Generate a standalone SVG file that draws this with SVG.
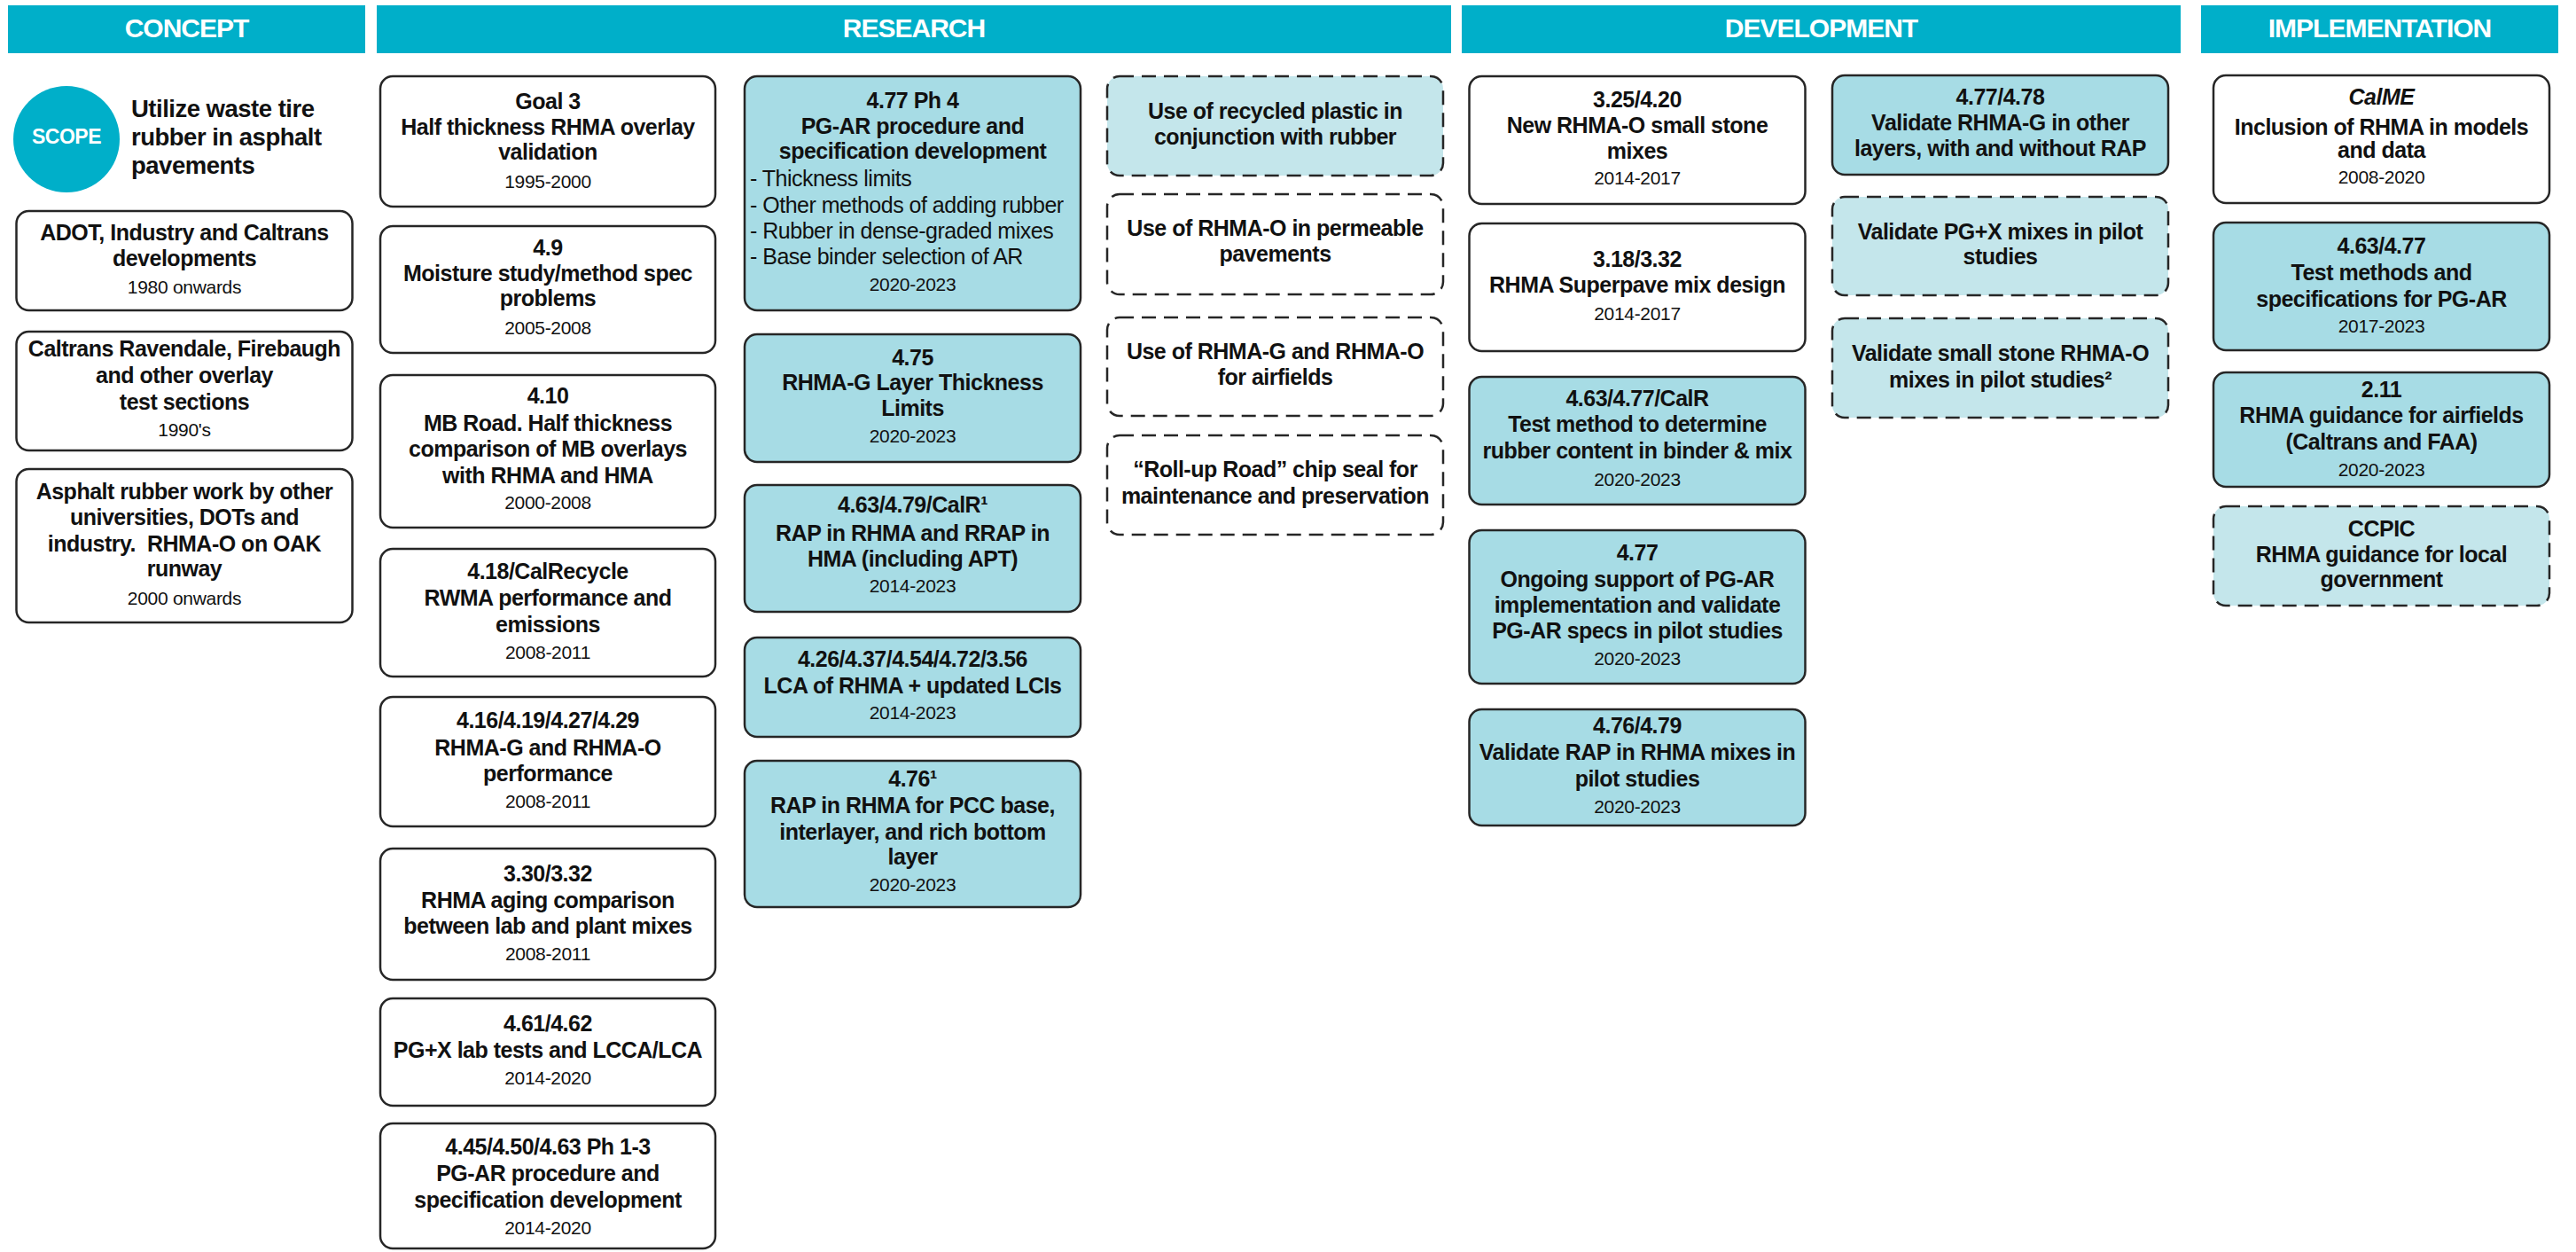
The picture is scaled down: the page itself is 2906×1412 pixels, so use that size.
<svg xmlns="http://www.w3.org/2000/svg" width="2906" height="1412" viewBox="0 0 2906 1412">
<style>
.box{stroke:#262626;stroke-width:2.5}
.w{fill:#ffffff}
.b{fill:#A7DCE5}
.l{fill:#C4E6EB}
.d{stroke-dasharray:16 9}
.hdr{fill:#00AFC9}
text{font-family:"Liberation Sans",Arial,sans-serif;fill:#111;text-anchor:middle}
.t{font-weight:bold;font-size:25px;letter-spacing:-0.5px}
.y{font-weight:normal;font-size:21px;letter-spacing:-0.3px}
.r{font-weight:normal;font-size:25px;letter-spacing:-0.5px;text-anchor:start}
.h{fill:#ffffff;font-weight:bold;font-size:30px;letter-spacing:-1px}
.it{font-style:italic}
</style>
<rect width="2906" height="1412" fill="#ffffff"/>
<g id="headers">
<rect class="hdr" x="9" y="6" width="403" height="54"/>
<text class="h" x="210.5" y="42">CONCEPT</text>
<rect class="hdr" x="425" y="6" width="1212" height="54"/>
<text class="h" x="1031" y="42">RESEARCH</text>
<rect class="hdr" x="1649" y="6" width="811" height="54"/>
<text class="h" x="2054.5" y="42">DEVELOPMENT</text>
<rect class="hdr" x="2483" y="6" width="403" height="54"/>
<text class="h" x="2684.5" y="42">IMPLEMENTATION</text>
</g>
<g id="connectors"></g>
<g id="scope">
<circle cx="75" cy="157" r="60" fill="#00AFC9"/>
<text class="t" x="75" y="162" style="fill:#fff;font-size:23px">SCOPE</text>
<text class="t" x="148" y="132" style="text-anchor:start;font-size:27.5px">Utilize waste tire</text>
<text class="t" x="148" y="164" style="text-anchor:start;font-size:27.5px">rubber in asphalt</text>
<text class="t" x="148" y="196" style="text-anchor:start;font-size:27.5px">pavements</text>
</g>
<g id="c1">
<rect class="box w" x="18.5" y="238" width="379" height="112" rx="14"/>
<text class="t" x="208" y="271">ADOT, Industry and Caltrans</text>
<text class="t" x="208" y="300">developments</text>
<text class="y" x="208" y="331">1980 onwards</text>
</g>
<g id="c2">
<rect class="box w" x="18.5" y="374" width="379" height="134" rx="14"/>
<text class="t" x="208" y="402">Caltrans Ravendale, Firebaugh</text>
<text class="t" x="208" y="432">and other overlay</text>
<text class="t" x="208" y="462">test sections</text>
<text class="y" x="208" y="492">1990's</text>
</g>
<g id="c3">
<rect class="box w" x="18.5" y="529" width="379" height="173" rx="14"/>
<text class="t" x="208" y="563">Asphalt rubber work by other</text>
<text class="t" x="208" y="592">universities, DOTs and</text>
<text class="t" x="208" y="622" xml:space="preserve">industry.  RHMA-O on OAK</text>
<text class="t" x="208" y="650">runway</text>
<text class="y" x="208" y="682">2000 onwards</text>
</g>
<g id="r1">
<rect class="box w" x="429" y="86" width="378" height="147" rx="14"/>
<text class="t" x="618" y="123">Goal 3</text>
<text class="t" x="618" y="152">Half thickness RHMA overlay</text>
<text class="t" x="618" y="180">validation</text>
<text class="y" x="618" y="212">1995-2000</text>
</g>
<g id="r2">
<rect class="box w" x="429" y="255" width="378" height="143" rx="14"/>
<text class="t" x="618" y="288">4.9</text>
<text class="t" x="618" y="317">Moisture study/method spec</text>
<text class="t" x="618" y="345">problems</text>
<text class="y" x="618" y="377">2005-2008</text>
</g>
<g id="r3">
<rect class="box w" x="429" y="423" width="378" height="172" rx="14"/>
<text class="t" x="618" y="455">4.10</text>
<text class="t" x="618" y="486">MB Road. Half thickness</text>
<text class="t" x="618" y="515">comparison of MB overlays</text>
<text class="t" x="618" y="545">with RHMA and HMA</text>
<text class="y" x="618" y="574">2000-2008</text>
</g>
<g id="r4">
<rect class="box w" x="429" y="619" width="378" height="144" rx="14"/>
<text class="t" x="618" y="653">4.18/CalRecycle</text>
<text class="t" x="618" y="683">RWMA performance and</text>
<text class="t" x="618" y="713">emissions</text>
<text class="y" x="618" y="743">2008-2011</text>
</g>
<g id="r5">
<rect class="box w" x="429" y="786" width="378" height="146" rx="14"/>
<text class="t" x="618" y="821">4.16/4.19/4.27/4.29</text>
<text class="t" x="618" y="852">RHMA-G and RHMA-O</text>
<text class="t" x="618" y="881">performance</text>
<text class="y" x="618" y="911">2008-2011</text>
</g>
<g id="r6">
<rect class="box w" x="429" y="957" width="378" height="148" rx="14"/>
<text class="t" x="618" y="994">3.30/3.32</text>
<text class="t" x="618" y="1024">RHMA aging comparison</text>
<text class="t" x="618" y="1053">between lab and plant mixes</text>
<text class="y" x="618" y="1083">2008-2011</text>
</g>
<g id="r7">
<rect class="box w" x="429" y="1126" width="378" height="121" rx="14"/>
<text class="t" x="618" y="1163">4.61/4.62</text>
<text class="t" x="618" y="1193">PG+X lab tests and LCCA/LCA</text>
<text class="y" x="618" y="1223">2014-2020</text>
</g>
<g id="r8">
<rect class="box w" x="429" y="1267" width="378" height="141" rx="14"/>
<text class="t" x="618" y="1302">4.45/4.50/4.63 Ph 1-3</text>
<text class="t" x="618" y="1332">PG-AR procedure and</text>
<text class="t" x="618" y="1362">specification development</text>
<text class="y" x="618" y="1392">2014-2020</text>
</g>
<g id="b1">
<rect class="box b" x="840" y="86" width="379" height="264" rx="14"/>
<text class="t" x="1029.5" y="122">4.77 Ph 4</text>
<text class="t" x="1029.5" y="151">PG-AR procedure and</text>
<text class="t" x="1029.5" y="179">specification development</text>
<text class="r" x="846" y="210">- Thickness limits</text>
<text class="r" x="846" y="240">- Other methods of adding rubber</text>
<text class="r" x="846" y="269">- Rubber in dense-graded mixes</text>
<text class="r" x="846" y="298">- Base binder selection of AR</text>
<text class="y" x="1029.5" y="328">2020-2023</text>
</g>
<g id="b2">
<rect class="box b" x="840" y="377" width="379" height="144" rx="14"/>
<text class="t" x="1029.5" y="412">4.75</text>
<text class="t" x="1029.5" y="440">RHMA-G Layer Thickness</text>
<text class="t" x="1029.5" y="469">Limits</text>
<text class="y" x="1029.5" y="499">2020-2023</text>
</g>
<g id="b3">
<rect class="box b" x="840" y="547" width="379" height="143" rx="14"/>
<text class="t" x="1029.5" y="578">4.63/4.79/CalR¹</text>
<text class="t" x="1029.5" y="610">RAP in RHMA and RRAP in</text>
<text class="t" x="1029.5" y="639">HMA (including APT)</text>
<text class="y" x="1029.5" y="668">2014-2023</text>
</g>
<g id="b4">
<rect class="box b" x="840" y="719" width="379" height="112" rx="14"/>
<text class="t" x="1029.5" y="752">4.26/4.37/4.54/4.72/3.56</text>
<text class="t" x="1029.5" y="782">LCA of RHMA + updated LCIs</text>
<text class="y" x="1029.5" y="811">2014-2023</text>
</g>
<g id="b5">
<rect class="box b" x="840" y="858" width="379" height="165" rx="14"/>
<text class="t" x="1029.5" y="887">4.76¹</text>
<text class="t" x="1029.5" y="917">RAP in RHMA for PCC base,</text>
<text class="t" x="1029.5" y="947">interlayer, and rich bottom</text>
<text class="t" x="1029.5" y="975">layer</text>
<text class="y" x="1029.5" y="1005">2020-2023</text>
</g>
<g id="d1">
<rect class="box l d" x="1249" y="86" width="379" height="112" rx="14"/>
<text class="t" x="1438.5" y="134">Use of recycled plastic in</text>
<text class="t" x="1438.5" y="163">conjunction with rubber</text>
</g>
<g id="d2">
<rect class="box w d" x="1249" y="219" width="379" height="113" rx="14"/>
<text class="t" x="1438.5" y="266">Use of RHMA-O in permeable</text>
<text class="t" x="1438.5" y="295">pavements</text>
</g>
<g id="d3">
<rect class="box w d" x="1249" y="358" width="379" height="111" rx="14"/>
<text class="t" x="1438.5" y="405">Use of RHMA-G and RHMA-O</text>
<text class="t" x="1438.5" y="434">for airfields</text>
</g>
<g id="d4">
<rect class="box w d" x="1249" y="491" width="379" height="112" rx="14"/>
<text class="t" x="1438.5" y="538">“Roll-up Road” chip seal for</text>
<text class="t" x="1438.5" y="568">maintenance and preservation</text>
</g>
<g id="v1">
<rect class="box w" x="1657.5" y="86" width="379" height="144" rx="14"/>
<text class="t" x="1847" y="121">3.25/4.20</text>
<text class="t" x="1847" y="150">New RHMA-O small stone</text>
<text class="t" x="1847" y="179">mixes</text>
<text class="y" x="1847" y="208">2014-2017</text>
</g>
<g id="v2">
<rect class="box w" x="1657.5" y="252" width="379" height="144" rx="14"/>
<text class="t" x="1847" y="301">3.18/3.32</text>
<text class="t" x="1847" y="330">RHMA Superpave mix design</text>
<text class="y" x="1847" y="361">2014-2017</text>
</g>
<g id="v3">
<rect class="box b" x="1657.5" y="425" width="379" height="144" rx="14"/>
<text class="t" x="1847" y="458">4.63/4.77/CalR</text>
<text class="t" x="1847" y="487">Test method to determine</text>
<text class="t" x="1847" y="517">rubber content in binder &amp; mix</text>
<text class="y" x="1847" y="548">2020-2023</text>
</g>
<g id="v4">
<rect class="box b" x="1657.5" y="598" width="379" height="173" rx="14"/>
<text class="t" x="1847" y="632">4.77</text>
<text class="t" x="1847" y="662">Ongoing support of PG-AR</text>
<text class="t" x="1847" y="691">implementation and validate</text>
<text class="t" x="1847" y="720">PG-AR specs in pilot studies</text>
<text class="y" x="1847" y="750">2020-2023</text>
</g>
<g id="v5">
<rect class="box b" x="1657.5" y="800" width="379" height="131" rx="14"/>
<text class="t" x="1847" y="827">4.76/4.79</text>
<text class="t" x="1847" y="857">Validate RAP in RHMA mixes in</text>
<text class="t" x="1847" y="887">pilot studies</text>
<text class="y" x="1847" y="917">2020-2023</text>
</g>
<g id="w1">
<rect class="box b" x="2067" y="85" width="379" height="112" rx="14"/>
<text class="t" x="2256.5" y="118">4.77/4.78</text>
<text class="t" x="2256.5" y="147">Validate RHMA-G in other</text>
<text class="t" x="2256.5" y="176">layers, with and without RAP</text>
</g>
<g id="w2">
<rect class="box l d" x="2067" y="222" width="379" height="111" rx="14"/>
<text class="t" x="2256.5" y="270">Validate PG+X mixes in pilot</text>
<text class="t" x="2256.5" y="298">studies</text>
</g>
<g id="w3">
<rect class="box l d" x="2067" y="359" width="379" height="112" rx="14"/>
<text class="t" x="2256.5" y="407">Validate small stone RHMA-O</text>
<text class="t" x="2256.5" y="437">mixes in pilot studies²</text>
</g>
<g id="i1">
<rect class="box w" x="2497" y="85" width="379" height="144" rx="14"/>
<text class="t it" x="2686.5" y="118">CalME</text>
<text class="t" x="2686.5" y="152">Inclusion of RHMA in models</text>
<text class="t" x="2686.5" y="178">and data</text>
<text class="y" x="2686.5" y="207">2008-2020</text>
</g>
<g id="i2">
<rect class="box b" x="2497" y="251" width="379" height="144" rx="14"/>
<text class="t" x="2686.5" y="286">4.63/4.77</text>
<text class="t" x="2686.5" y="316">Test methods and</text>
<text class="t" x="2686.5" y="346">specifications for PG-AR</text>
<text class="y" x="2686.5" y="375">2017-2023</text>
</g>
<g id="i3">
<rect class="box b" x="2497" y="420" width="379" height="129" rx="14"/>
<text class="t" x="2686.5" y="448">2.11</text>
<text class="t" x="2686.5" y="477">RHMA guidance for airfields</text>
<text class="t" x="2686.5" y="507">(Caltrans and FAA)</text>
<text class="y" x="2686.5" y="537">2020-2023</text>
</g>
<g id="i4">
<rect class="box l d" x="2497" y="571" width="379" height="112" rx="14"/>
<text class="t" x="2686.5" y="605">CCPIC</text>
<text class="t" x="2686.5" y="634">RHMA guidance for local</text>
<text class="t" x="2686.5" y="662">government</text>
</g>
</svg>
